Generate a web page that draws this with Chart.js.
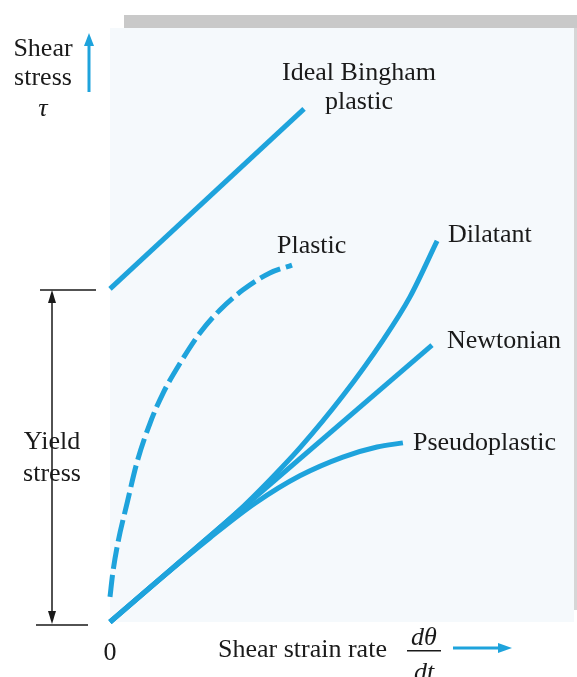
<!DOCTYPE html>
<html>
<head>
<meta charset="utf-8">
<script src="https://cdn.jsdelivr.net/npm/chart.js@4"></script>
<style>
  html, body { margin: 0; padding: 0; background: #ffffff; }
  #wrap { width: 577px; height: 677px; position: relative; }
</style>
</head>
<body>
<div id="wrap"><canvas id="flow"></canvas></div>
<script>
// curve values (x = shear strain rate, y = shear stress, arbitrary units)
const binghamX = [0, 4.20];
const binghamY = [7.29, 11.23];

const plasticX = [0, 0.06, 0.17, 0.37, 0.58, 0.87, 1.15, 1.52, 1.95, 2.38, 2.88, 3.46, 3.94];
const plasticY = [0.55, 1.07, 1.73, 2.60, 3.48, 4.36, 5.01, 5.67, 6.33, 6.83, 7.27, 7.64, 7.81];

const dilatantX = [0, 1.41, 2.77, 3.46, 4.11, 5.04, 5.91, 6.49, 7.08];
const dilatantY = [0, 1.23, 2.42, 3.11, 3.81, 4.95, 6.17, 7.11, 8.34];

const newtonianX = [0, 6.97];
const newtonianY = [0, 6.06];

const pseudoX = [0, 1.08, 2.16, 3.14, 4.11, 5.04, 5.78, 6.34];
const pseudoY = [0, 0.94, 1.84, 2.60, 3.20, 3.61, 3.83, 3.92];

const yieldStress = 7.29;

const blue = '#1ea3dc';
const ink = '#1a1a1a';

function pts(xs, ys) {
    return xs.map((x, i) => ({x: x, y: ys[i]}));
}

function curve(xs, ys, dashed) {
    return {
        data: pts(xs, ys),
        showLine: true,
        borderColor: blue,
        borderWidth: 5,
        pointRadius: 0,
        cubicInterpolationMode: 'monotone',
        borderCapStyle: 'butt',
        borderDash: dashed ? [22, 6] : [],
        clip: false
    };
}

//panel, grey frame strips
const backdrop = {
    id: 'backdrop',
    beforeDraw(chart) {
        const ctx = chart.ctx;
        const a = chart.chartArea;
        ctx.save();
        ctx.fillStyle = '#ffffff';
        ctx.fillRect(0, 0, chart.width, chart.height);
        ctx.fillStyle = '#f5f9fc';
        ctx.fillRect(a.left, a.top, a.right - a.left + 2, a.bottom - a.top);
        ctx.fillStyle = '#c9c9c9';
        ctx.fillRect(124, 15, chart.width - 124, 13);
        ctx.fillStyle = '#d6d6d6';
        ctx.fillRect(a.right + 2, a.top, 3, a.bottom - a.top - 12);
        ctx.restore();
    }
};

function arrowHead(ctx, x, y, dir, len, half, color) {
    // dir: 'up' | 'down' | 'right'
    ctx.fillStyle = color;
    ctx.beginPath();
    if (dir === 'up') {
        ctx.moveTo(x, y); ctx.lineTo(x - half, y + len); ctx.lineTo(x + half, y + len);
    } else if (dir === 'down') {
        ctx.moveTo(x, y); ctx.lineTo(x - half, y - len); ctx.lineTo(x + half, y - len);
    } else {
        ctx.moveTo(x, y); ctx.lineTo(x - len, y - half); ctx.lineTo(x - len, y + half);
    }
    ctx.closePath();
    ctx.fill();
}

//labels, arrows and the yield stress dimension
const annotations = {
    id: 'annotations',
    afterDraw(chart) {
        const ctx = chart.ctx;
        const xs = chart.scales.x;
        const ys = chart.scales.y;
        const serif = '26px "Liberation Serif", "Times New Roman", serif';
        const italic = 'italic 26px "Liberation Serif", "Times New Roman", serif';
        ctx.save();
        ctx.fillStyle = ink;
        ctx.textBaseline = 'alphabetic';
        ctx.font = serif;

        ctx.textAlign = 'center';
        ctx.fillText('Shear', 43, 56);
        ctx.fillText('stress', 43, 85);
        ctx.font = italic;
        ctx.fillText('\u03c4', 43, 116);

        ctx.font = serif;
        ctx.fillText('Ideal Bingham', 359, 80);
        ctx.fillText('plastic', 359, 109);
        ctx.fillText('Yield', 52, 449);
        ctx.fillText('stress', 52, 481);
        ctx.fillText('0', xs.getPixelForValue(0), 660);

        ctx.textAlign = 'left';
        ctx.fillText('Plastic', 277, 253);
        ctx.fillText('Dilatant', 448, 242);
        ctx.fillText('Newtonian', 447, 348);
        ctx.fillText('Pseudoplastic', 413, 450);
        ctx.fillText('Shear strain rate', 218, 657);

        ctx.font = italic;
        ctx.textAlign = 'center';
        ctx.fillText('d\u03b8', 424, 645);
        ctx.fillText('dt', 424, 680);
        ctx.fillRect(407, 650, 34, 1.5);

        // axis arrows
        ctx.strokeStyle = blue;
        ctx.lineWidth = 3;
        ctx.beginPath();
        ctx.moveTo(89, 92); ctx.lineTo(89, 44);
        ctx.stroke();
        arrowHead(ctx, 89, 33, 'up', 13, 5, blue);
        ctx.beginPath();
        ctx.moveTo(453, 648); ctx.lineTo(500, 648);
        ctx.stroke();
        arrowHead(ctx, 512, 648, 'right', 14, 5, blue);

        // yield stress dimension
        const yTop = ys.getPixelForValue(yieldStress);
        const yBot = ys.getPixelForValue(0);
        ctx.strokeStyle = ink;
        ctx.lineWidth = 1.5;
        ctx.beginPath();
        ctx.moveTo(40, yTop + 1); ctx.lineTo(96, yTop + 1);
        ctx.moveTo(36, yBot + 3); ctx.lineTo(88, yBot + 3);
        ctx.moveTo(52, yTop + 12); ctx.lineTo(52, yBot - 10);
        ctx.stroke();
        arrowHead(ctx, 52, yTop + 1, 'up', 13, 4, ink);
        arrowHead(ctx, 52, yBot + 2, 'down', 13, 4, ink);
        ctx.restore();
    }
};

const flowChart = new Chart(document.getElementById('flow'), {
    type: 'scatter',
    data: {
        datasets: [
            curve(binghamX, binghamY, false),
            curve(plasticX, plasticY, true),
            curve(dilatantX, dilatantY, false),
            curve(newtonianX, newtonianY, false),
            curve(pseudoX, pseudoY, false)
        ]
    },
    options: {
        responsive: true,
        maintainAspectRatio: false,
        animation: false,
        events: [],
        layout: {
            padding: {left: 110, top: 28, right: 5, bottom: 55}
        },
        plugins: {
            legend: {display: false},
            tooltip: {enabled: false}
        },
        scales: {
            x: {type: 'linear', min: 0, max: 10, display: false},
            y: {type: 'linear', min: 0, max: 13, display: false}
        }
    },
    plugins: [backdrop, annotations]
});
</script>
</body>
</html>
